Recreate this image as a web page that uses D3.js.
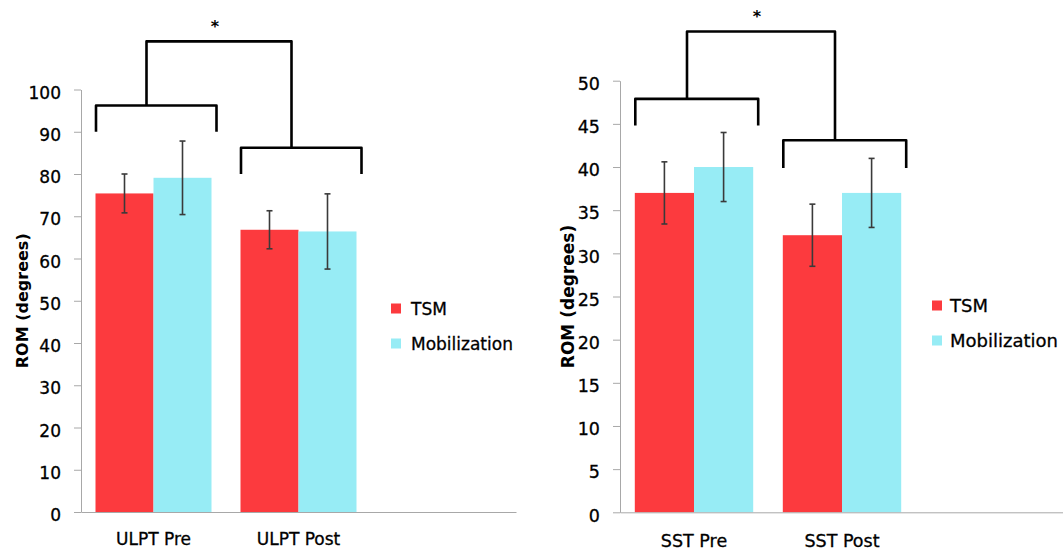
<!DOCTYPE html>
<html lang="en">
<head>
<meta charset="UTF-8">
<title>ROM: TSM vs Mobilization</title>
<script src="https://cdnjs.cloudflare.com/ajax/libs/d3/7.8.5/d3.min.js"></script>
<style>
  body { margin: 0; background: #fff; }
  svg { display: block; font-family: "DejaVu Sans", sans-serif; }
  .lbl { stroke: #000; stroke-width: 0.3px; }
</style>
</head>
<body>
<div id="chart"></div>
<script>
// ---- data ----
const seriesNames = ["TSM", "Mobilization"];
const seriesColors = ["#fc3a3e", "#97ecf5"];

const ulptCategories = ["ULPT Pre", "ULPT Post"];
const ulptTSM = [75.4, 66.8];
const ulptTSMErr = [4.6, 4.5];
const ulptMobilization = [79.1, 66.4];
const ulptMobilizationErr = [8.7, 8.9];
const ulptTicks = [0, 10, 20, 30, 40, 50, 60, 70, 80, 90, 100];

const sstCategories = ["SST Pre", "SST Post"];
const sstTSM = [37.0, 32.1];
const sstTSMErr = [3.6, 3.6];
const sstMobilization = [40.0, 37.0];
const sstMobilizationErr = [4.0, 4.0];
const sstTicks = [0, 5, 10, 15, 20, 25, 30, 35, 40, 45, 50];

const yLabel = "ROM (degrees)";
const sigMark = "*";

const width = 1063, height = 552;
const svg = d3.select("#chart").append("svg")
  .attr("width", width).attr("height", height);

function drawPanel(p) {
  // third, empty slot keeps the bars in the left part of the plot (as in the original)
  const x = d3.scaleBand().domain([...p.categories, ""])
    .range([p.left, p.right]).paddingInner(0.2).paddingOuter(0.1);
  const xs = d3.scaleBand().domain(seriesNames).range([0, x.bandwidth()]);
  const y = d3.scaleLinear().domain([0, p.ticks[p.ticks.length - 1]]).range([p.bottom, p.top]);
  const g = svg.append("g");

  // bars
  p.values.forEach((vals, si) => {
    g.append("g").selectAll("rect").data(vals).join("rect")
      .attr("x", (d, i) => x(p.categories[i]) + xs(seriesNames[si]))
      .attr("y", d => y(d))
      .attr("width", xs.bandwidth())
      .attr("height", d => y(0) - y(d))
      .attr("fill", seriesColors[si]);
  });

  // error bars
  p.values.forEach((vals, si) => {
    const eg = g.append("g").attr("stroke", "#3a3a3a").attr("stroke-width", 1.6);
    vals.forEach((v, i) => {
      const e = p.errors[si][i];
      const cx = x(p.categories[i]) + xs(seriesNames[si]) + xs.bandwidth() / 2;
      eg.append("line").attr("x1", cx).attr("x2", cx).attr("y1", y(v + e)).attr("y2", y(v - e));
      [v + e, v - e].forEach(t => eg.append("line")
        .attr("x1", cx - 3).attr("x2", cx + 3).attr("y1", y(t)).attr("y2", y(t)));
    });
  });

  // y axis
  const ya = g.append("g").attr("transform", `translate(${p.left},0)`)
    .call(d3.axisLeft(y).tickValues(p.ticks).tickSize(7).tickPadding(13).tickSizeOuter(0));
  ya.select(".domain").attr("stroke", "#a8a8a8");
  ya.selectAll(".tick line").attr("stroke", "#a8a8a8");
  ya.selectAll(".tick text").attr("fill", "#000").attr("class", "lbl")
    .attr("font-family", "DejaVu Sans").attr("font-size", p.tickFont).attr("dy", "0.5em");

  // x axis
  const xa = g.append("g").attr("transform", `translate(0,${p.bottom})`)
    .call(d3.axisBottom(x).tickSize(0).tickPadding(p.labelPad).tickSizeOuter(0));
  xa.select(".domain").attr("stroke", "#a8a8a8");
  xa.selectAll(".tick text").attr("fill", "#000").attr("class", "lbl")
    .attr("font-family", "DejaVu Sans").attr("font-size", p.tickFont);

  // y title
  g.append("text")
    .attr("transform", `translate(${p.titleX},${(p.top + p.bottom) / 2}) rotate(-90)`)
    .attr("text-anchor", "middle")
    .attr("font-weight", "bold")
    .attr("font-size", p.titleFont)
    .text(yLabel);

  // significance brackets
  const bg = g.append("g").attr("fill", "none").attr("stroke", "#000")
    .attr("stroke-width", 2.6).attr("stroke-linejoin", "round");
  const stems = p.categories.map(c => x(c) + x.bandwidth() / 2 - 7);
  p.categories.forEach((c, i) => {
    const x0 = x(c) + 0.5, x1 = x(c) + x.bandwidth() + 5;
    bg.append("path").attr("d",
      `M${x0},${y(p.bracket.leg[i])}V${y(p.bracket.group[i])}H${x1}V${y(p.bracket.leg[i])}`);
  });
  bg.append("path").attr("d",
    `M${stems[0]},${y(p.bracket.group[0])}V${y(p.bracket.top)}H${stems[1]}V${y(p.bracket.group[1])}`);
  g.append("text")
    .attr("x", (stems[0] + stems[1]) / 2 - 4)
    .attr("y", y(p.bracket.top) - 9)
    .attr("text-anchor", "middle")
    .attr("font-size", 16).attr("font-weight", "bold")
    .text(sigMark);

  // legend
  const lg = g.append("g").attr("transform", `translate(${p.legendX},${p.legendY})`);
  seriesNames.forEach((name, i) => {
    lg.append("rect").attr("x", 0).attr("y", i * 35).attr("width", 10).attr("height", 10)
      .attr("fill", seriesColors[i]);
    lg.append("text").attr("x", p.legendGap).attr("y", i * 35 + 5).attr("dy", "0.36em")
      .attr("class", "lbl").attr("font-size", p.legendFont).text(name);
  });
}

drawPanel({
  categories: ulptCategories,
  values: [ulptTSM, ulptMobilization],
  errors: [ulptTSMErr, ulptMobilizationErr],
  ticks: ulptTicks,
  left: 81, right: 516, top: 89.5, bottom: 512,
  tickFont: 17, labelPad: 21, titleFont: 16, titleX: 27.5,
  bracket: { group: [96.2, 86.2], leg: [90, 80], top: 111.4 },
  legendX: 391, legendY: 303.5, legendGap: 20, legendFont: 17
});

drawPanel({
  categories: sstCategories,
  values: [sstTSM, sstMobilization],
  errors: [sstTSMErr, sstMobilizationErr],
  ticks: sstTicks,
  left: 620, right: 1064, top: 80.7, bottom: 512.3,
  tickFont: 17.5, labelPad: 22, titleFont: 17, titleX: 574,
  bracket: { group: [47.9, 43.1], leg: [44.8, 39.9], top: 55.7 },
  legendX: 932, legendY: 300.5, legendGap: 18, legendFont: 18
});
</script>
</body>
</html>
